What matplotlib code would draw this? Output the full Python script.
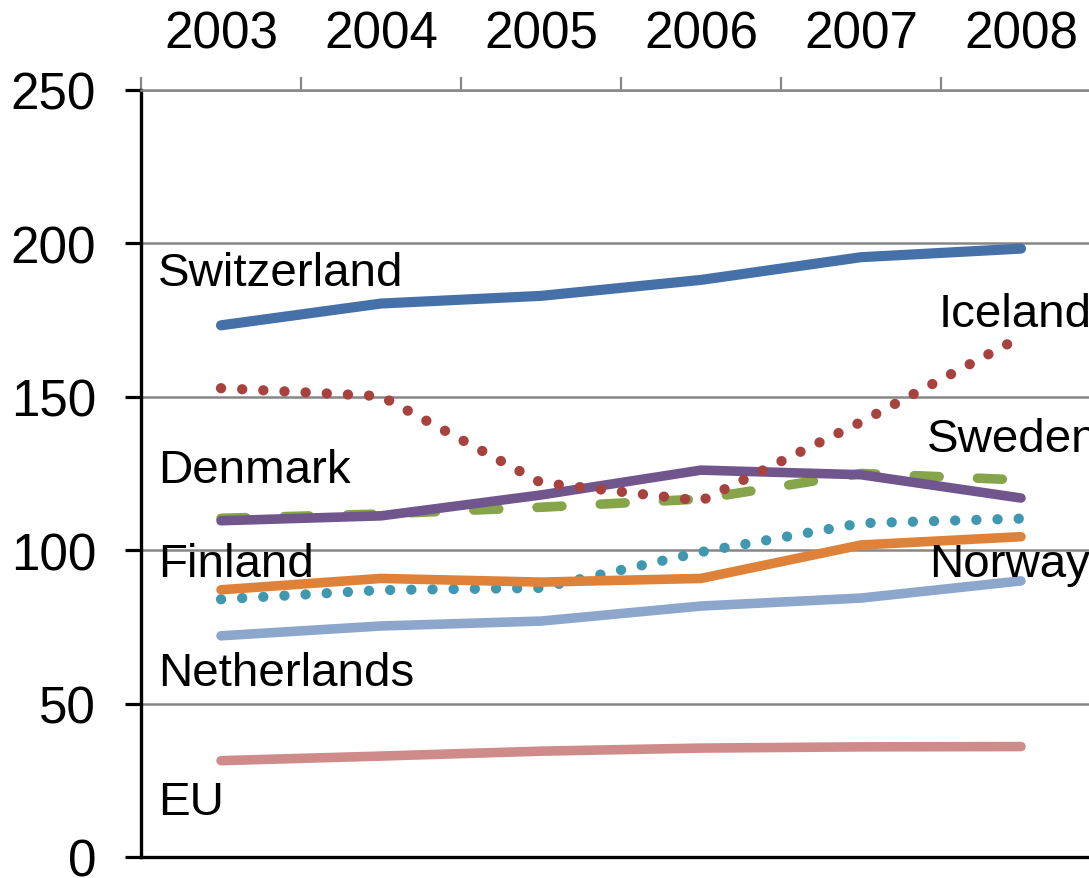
import matplotlib
matplotlib.use("Agg")
import matplotlib.pyplot as plt

plt.rcParams['font.family'] = ['Liberation Sans', 'DejaVu Sans']

years = ['2003', '2004', '2005', '2006', '2007', '2008']
switzerland = [173.3, 180.4, 182.9, 188.1, 195.5, 198.3]
iceland = [152.8, 150.2, 122.0, 116.1, 141.8, 169.5]
denmark = [109.6, 111.2, 118.0, 126.1, 124.6, 117.0]
sweden = [110.4, 111.8, 114.0, 116.7, 125.0, 122.9]
norway = [84.0, 87.0, 87.7, 99.4, 108.8, 110.3]
finland = [87.1, 90.8, 89.6, 90.8, 101.7, 104.4]
netherlands = [72.1, 75.3, 76.9, 81.8, 84.4, 90.0]
eu = [31.4, 32.9, 34.5, 35.5, 35.9, 36.0]
y_ticks = [0, 50, 100, 150, 200, 250]

fig = plt.figure(figsize=(10.89, 8.79), dpi=100)
ax = fig.add_axes([141 / 1089, 21 / 879, 960 / 1089, 767 / 879])

x = list(range(len(years)))

def solid(vals, color, lw=6.9, z=2):
    ax.plot(x, vals, color=color, lw=lw, solid_capstyle='round',
            solid_joinstyle='round', zorder=z, clip_on=False)

def dotted(vals, color, lw=7.4, z=2):
    ax.plot(x, vals, color=color, lw=lw, linestyle=(0, (0.01, 2.05)),
            dash_capstyle='round', zorder=z, clip_on=False)

solid(eu, '#CF8B8A', z=2)
solid(netherlands, '#8DA6CC', z=2.1)
dotted(norway, '#3F97B0', z=2.2)
solid(finland, '#DD8238', z=2.3)
ax.plot(x, sweden, color='#86A44A', lw=6.9, linestyle=(0, (2.6, 4.0)),
        dash_capstyle='round', zorder=2.4, clip_on=False)
solid(denmark, '#70568D', z=2.5)
dotted(iceland, '#A8423F', z=2.6)
solid(switzerland, '#4571A8', lw=7.3, z=2.7)

# labels (positions in data coordinates)
label_texts = ['Switzerland', 'Iceland', 'Denmark', 'Sweden', 'Finland',
               'Norway', 'Netherlands', 'EU']
label_pos = [(-0.394, 186.4), (4.485, 173.1), (-0.394, 122.2), (4.4125, 132.3),
             (-0.394, 91.6), (4.428, 91.6), (-0.394, 56.1), (-0.394, 14.0)]
for t, (lx, ly) in zip(label_texts, label_pos):
    ax.text(lx, ly, t, fontsize=34.2, ha='left', va='baseline', color='black',
            zorder=5, clip_on=False)

ax.set_xlim(-0.5, 5.5)
ax.set_ylim(0, 250)

# top axis
ax.xaxis.tick_top()
ax.set_xticks(x)
ax.set_xticklabels(years)
ax.set_xticks([i - 0.5 for i in range(len(years) + 1)], minor=True)
ax.tick_params(axis='x', which='major', length=0, pad=23, labelsize=36.8,
               colors='black')
ax.tick_params(axis='x', which='minor', length=9.6, width=1.6,
               color='#868686', direction='out')

ax.set_yticks(y_ticks)
ax.set_yticklabels([str(v) for v in y_ticks])
ax.tick_params(axis='y', which='major', length=11.3, width=2.3, color='black',
               direction='out', pad=21, labelsize=36.8)

ax.yaxis.grid(True, color='#868686', lw=1.8, zorder=1)
ax.set_axisbelow(True)

ax.spines['right'].set_visible(False)
ax.spines['top'].set_color('#868686')
ax.spines['top'].set_linewidth(1.8)
ax.spines['left'].set_color('black')
ax.spines['left'].set_linewidth(2.4)
ax.spines['bottom'].set_color('black')
ax.spines['bottom'].set_linewidth(2.4)

fig.savefig('out.png', dpi=100)
